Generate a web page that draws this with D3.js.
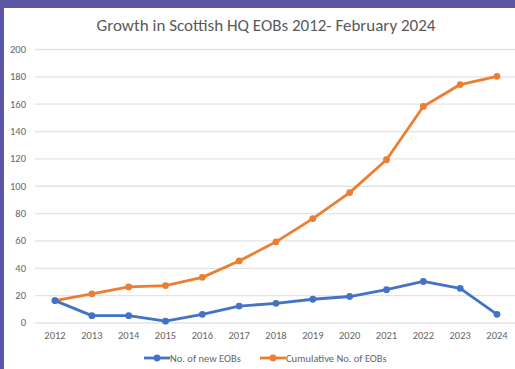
<!DOCTYPE html>
<html>
<head>
<meta charset="utf-8">
<script src="https://cdn.jsdelivr.net/npm/d3@7"></script>
<style>
  body { margin: 0; background: #5b56a6; }
  svg { display: block; font-family: Calibri, Carlito, "Open Sans", sans-serif; }
</style>
</head>
<body>
<svg id="canvas" width="515" height="369"></svg>
<script>
const years = ["2012","2013","2014","2015","2016","2017","2018","2019","2020","2021","2022","2023","2024"];
const newEobs = [16, 5, 5, 1, 6, 12, 14, 17, 19, 24, 30, 25, 6];
const cumulativeEobs = [16, 21, 26, 27, 33, 45, 59, 76, 95, 119, 158, 174, 180];
const yTicks = [0, 20, 40, 60, 80, 100, 120, 140, 160, 180, 200];

const svg = d3.select("#canvas");
const labelColor = "#666666";

// white panel, purple strip shows on top and left
svg.append("rect")
    .attr("x", 4).attr("y", 8)
    .attr("width", 511).attr("height", 361)
    .attr("fill", "#ffffff");

svg.append("text")
    .attr("x", 266).attr("y", 31)
    .attr("text-anchor", "middle")
    .attr("font-size", 17)
    .attr("fill", "#595959")
    .text("Growth in Scottish HQ EOBs 2012- February 2024");

let xScale = d3.scaleBand()
    .domain(years)
    .range([36.6, 515.4]);

let yScale = d3.scaleLinear()
    .domain([0, 200])
    .range([322.5, 49]);

const cx = d => xScale(d) + xScale.bandwidth() / 2;

// gridlines + y labels
var y_axis = d3.axisLeft(yScale)
    .tickValues(yTicks)
    .tickSize(-(515 - 35))
    .tickPadding(10);

svg.append("g")
    .attr("class", "yaxis")
    .attr("transform", "translate(35,0)")
    .call(y_axis)
    .call(g => g.select(".domain").remove())
    .call(g => g.selectAll("line").attr("stroke", "#e3e3e3").attr("stroke-width", 1.3))
    .call(g => g.selectAll("text")
        .attr("x", -9)
        .attr("font-size", 10.5)
        .attr("fill", labelColor)
        .attr("font-family", "Calibri, Carlito, 'Open Sans', sans-serif"));

// x labels
var x_axis = d3.axisBottom(xScale).tickSize(0).tickPadding(9);

svg.append("g")
    .attr("class", "xaxis")
    .attr("transform", "translate(0,323)")
    .call(x_axis)
    .call(g => g.select(".domain").remove())
    .call(g => g.selectAll("text")
        .attr("font-size", 10.5)
        .attr("fill", labelColor)
        .attr("font-family", "Calibri, Carlito, 'Open Sans', sans-serif"));

const series = [
    { name: "No. of new EOBs", values: newEobs, color: "#4472c4" },
    { name: "Cumulative No. of EOBs", values: cumulativeEobs, color: "#ed7d31" }
];

const line = d3.line()
    .x((d, i) => cx(years[i]))
    .y(d => yScale(d));

series.slice().reverse().forEach(s => {
    svg.append("path")
        .datum(s.values)
        .attr("fill", "none")
        .attr("stroke", s.color)
        .attr("stroke-width", 2.8)
        .attr("stroke-linejoin", "round")
        .attr("d", line);

    svg.append("g")
        .selectAll("circle")
        .data(s.values)
        .join("circle")
        .attr("cx", (d, i) => cx(years[i]))
        .attr("cy", d => yScale(d))
        .attr("r", 3.4)
        .attr("fill", s.color);
});

// legend
const legendItems = [
    { x: 144, label: series[0].name, color: series[0].color },
    { x: 260, label: series[1].name, color: series[1].color }
];

const lg = svg.append("g").attr("class", "legend");
legendItems.forEach(it => {
    lg.append("line")
        .attr("x1", it.x).attr("x2", it.x + 26)
        .attr("y1", 358).attr("y2", 358)
        .attr("stroke", it.color).attr("stroke-width", 2.8);
    lg.append("circle")
        .attr("cx", it.x + 13).attr("cy", 358)
        .attr("r", 3.4).attr("fill", it.color);
    lg.append("text")
        .attr("x", it.x + 26).attr("y", 361.5)
        .attr("font-size", 10.5)
        .attr("fill", labelColor)
        .text(it.label);
});
</script>
</body>
</html>
